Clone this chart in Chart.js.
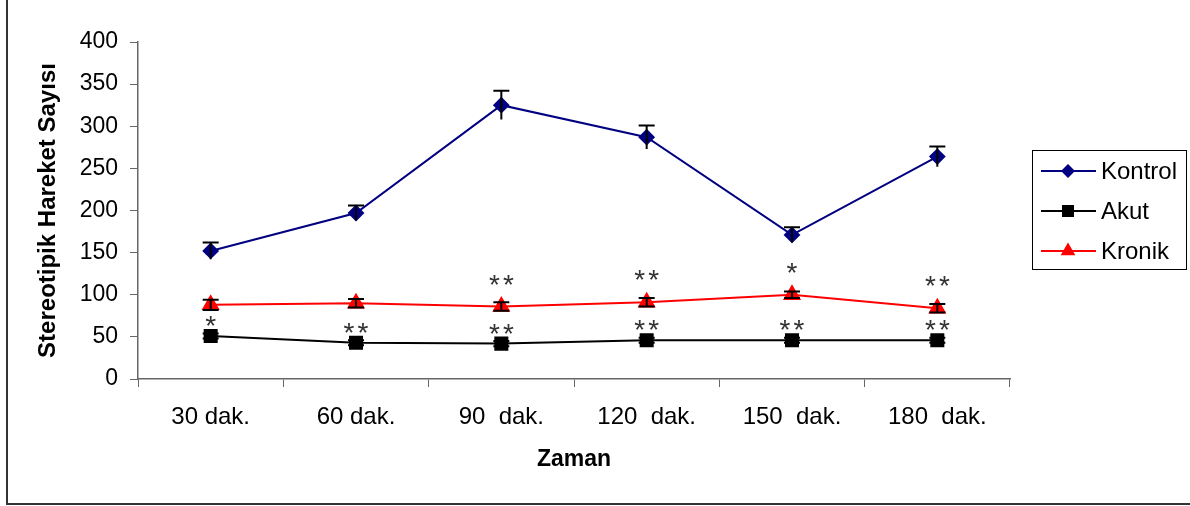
<!DOCTYPE html>
<html>
<head>
<meta charset="utf-8">
<script src="https://cdn.jsdelivr.net/npm/chart.js@4/dist/chart.umd.min.js"></script>
<style>
  html, body { margin: 0; padding: 0; background: #fff; }
  #wrap { position: relative; width: 1190px; height: 506px; }
</style>
</head>
<body>
<div id="wrap"><canvas id="chart" width="1190" height="506"></canvas></div>
<script>
// categories and values
const labels = ["30 dak.", "60 dak.", "90  dak.", "120  dak.", "150  dak.", "180  dak."];
const kontrol = [152, 197, 325, 287, 171, 264];
const akut = [51, 43, 42, 46, 46, 46];
const kronik = [88, 90, 86, 91, 100, 84];
const kontrolSem = [10, 9, 17, 14, 9, 12];
const akutSem = [3, 3, 3, 3, 3, 3];
const kronikSem = [6, 5, 5, 5, 4, 5];
const akutSig = ["*", "**", "**", "**", "**", "**"];
const kronikSig = ["", "", "**", "**", "*", "**"];
const yTicks = [0, 50, 100, 150, 200, 250, 300, 350, 400];

const FONT = "'Liberation Sans', Arial, sans-serif";

// error bars, drawn with the chart's own scales
const errorBars = {
    id: "errorBars",
    afterDatasetsDraw(chart) {
        const ctx = chart.ctx;
        const y = chart.scales.y;
        chart.data.datasets.forEach((ds, i) => {
            const meta = chart.getDatasetMeta(i);
            ctx.save();
            ctx.strokeStyle = "#000";
            ctx.lineWidth = 2;
            meta.data.forEach((pt, j) => {
                const v = ds.data[j], e = ds.sem[j];
                const top = y.getPixelForValue(v + e);
                const bot = y.getPixelForValue(v - e);
                ctx.beginPath();
                ctx.moveTo(pt.x, top);
                ctx.lineTo(pt.x, bot);
                ctx.moveTo(pt.x - 8, top);
                ctx.lineTo(pt.x + 8, top);
                if (ds.capBoth) {
                    ctx.moveTo(pt.x - 8, bot);
                    ctx.lineTo(pt.x + 8, bot);
                }
                ctx.stroke();
            });
            ctx.restore();
        });
    }
};

// significance stars above Akut and Kronik points
const stars = {
    id: "stars",
    afterDatasetsDraw(chart) {
        const ctx = chart.ctx;
        const size = 28;
        ctx.save();
        ctx.fillStyle = "#333";
        ctx.font = size + "px " + FONT;
        ctx.textAlign = "center";
        ctx.textBaseline = "alphabetic";
        chart.data.datasets.forEach((ds, i) => {
            if (!ds.sig) return;
            const meta = chart.getDatasetMeta(i);
            meta.data.forEach((pt, j) => {
                const s = ds.sig[j];
                if (!s) return;
                const cy = pt.y - ds.sigOffset + 0.57 * size;
                if (s.length === 1) {
                    ctx.fillText("*", pt.x, cy);
                } else {
                    ctx.fillText("*", pt.x - 7, cy);
                    ctx.fillText("*", pt.x + 7, cy);
                }
            });
        });
        ctx.restore();
    }
};

// boxed legend on the right plus the outer frame
const sideLegend = {
    id: "sideLegend",
    afterDraw(chart) {
        const ctx = chart.ctx;
        ctx.save();
        ctx.strokeStyle = "#333";
        ctx.lineWidth = 2;
        ctx.beginPath();
        ctx.moveTo(7, 0);
        ctx.lineTo(7, 504);
        ctx.lineTo(1190, 504);
        ctx.stroke();

        ctx.lineWidth = 1;
        ctx.strokeStyle = "#000";
        ctx.strokeRect(1032.5, 150.5, 154, 119);
        ctx.font = "24px " + FONT;
        ctx.textBaseline = "middle";
        ctx.textAlign = "left";
        chart.data.datasets.forEach((ds, i) => {
            const ly = 171 + i * 40;
            ctx.strokeStyle = ds.borderColor;
            ctx.lineWidth = 2;
            ctx.beginPath();
            ctx.moveTo(1041, ly);
            ctx.lineTo(1096, ly);
            ctx.stroke();
            ctx.fillStyle = ds.backgroundColor;
            Chart.helpers.drawPoint(ctx, {
                pointStyle: ds.pointStyle,
                radius: ds.pointRadius,
                rotation: 0,
                borderWidth: 0
            }, 1068, ly);
            ctx.fillStyle = "#000";
            ctx.fillText(ds.label, 1101, ly + 1);
        });
        ctx.restore();
    }
};

new Chart(document.getElementById("chart"), {
    type: "line",
    data: {
        labels: labels,
        datasets: [{
            label: "Kontrol",
            data: kontrol,
            sem: kontrolSem,
            borderColor: "#000080",
            backgroundColor: "#000080",
            pointStyle: "rectRot",
            pointRadius: 7,
            borderWidth: 2
        }, {
            label: "Akut",
            data: akut,
            sem: akutSem,
            capBoth: true,
            sig: akutSig,
            sigOffset: 17,
            borderColor: "#000000",
            backgroundColor: "#000000",
            pointStyle: "rect",
            pointRadius: 8.5,
            borderWidth: 2
        }, {
            label: "Kronik",
            data: kronik,
            sem: kronikSem,
            capBoth: true,
            sig: kronikSig,
            sigOffset: 29,
            borderColor: "#ff0000",
            backgroundColor: "#ff0000",
            pointStyle: "triangle",
            pointRadius: 8.5,
            borderWidth: 2
        }]
    },
    options: {
        responsive: false,
        animation: false,
        layout: { padding: { left: 0, top: 42, right: 180, bottom: 0 } },
        elements: {
            line: { tension: 0 },
            point: { borderWidth: 0, hoverRadius: 8 }
        },
        plugins: {
            legend: { display: false },
            tooltip: { enabled: false }
        },
        scales: {
            x: {
                offset: true,
                grid: {
                    offset: true,
                    drawOnChartArea: false,
                    tickLength: 8,
                    color: "#666",
                    tickColor: "#666"
                },
                border: { color: "#666", width: 1.5 },
                ticks: {
                    color: "#000",
                    font: { family: FONT, size: 24 },
                    padding: 16,
                    maxRotation: 0,
                    autoSkip: false
                },
                title: {
                    display: true,
                    text: "Zaman",
                    color: "#000",
                    font: { family: FONT, size: 23, weight: "bold" },
                    padding: { top: 0, bottom: 33 }
                },
                afterFit: s => { s.height = 127; }
            },
            y: {
                min: 0,
                max: 400,
                afterBuildTicks: s => { s.ticks = yTicks.map(v => ({ value: v })); },
                grid: {
                    drawOnChartArea: false,
                    tickLength: 8,
                    color: "#666",
                    tickColor: "#666"
                },
                border: { color: "#666", width: 1.5 },
                ticks: {
                    color: "#000",
                    font: { family: FONT, size: 23 },
                    padding: 12
                },
                title: {
                    display: true,
                    text: "Stereotipik Hareket Sayısı",
                    color: "#000",
                    font: { family: FONT, size: 24, weight: "bold" },
                    padding: { top: 34, bottom: 0 }
                },
                afterFit: s => { s.width = 138; }
            }
        }
    },
    plugins: [errorBars, stars, sideLegend]
});
</script>
</body>
</html>
